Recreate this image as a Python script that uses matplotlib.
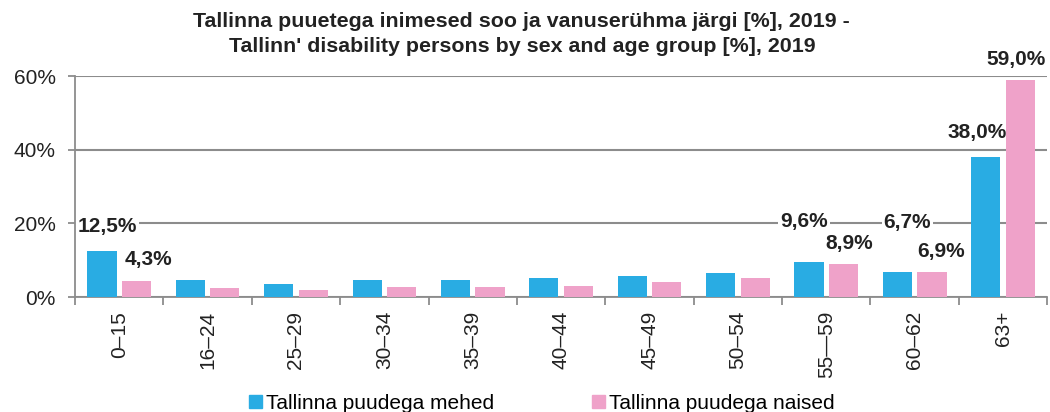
import numpy as np
import matplotlib.pyplot as plt
from matplotlib.patches import Patch

plt.rcParams['font.family'] = ['Liberation Sans', 'DejaVu Sans']

title = ("Tallinna puuetega inimesed soo ja vanuserühma järgi [%], 2019 -\n"
         "Tallinn' disability persons by sex and age group [%], 2019")
groups = ['0–15', '16–24', '25–29', '30–34', '35–39', '40–44', '45–49',
          '50–54', '55—59', '60–62', '63+']
men = [12.5, 4.5, 3.6, 4.5, 4.5, 5.1, 5.6, 6.5, 9.6, 6.7, 38.0]
women = [4.3, 2.4, 2.0, 2.6, 2.7, 2.9, 4.0, 5.3, 8.9, 6.9, 59.0]
men_name = 'Tallinna puudega mehed'
women_name = 'Tallinna puudega naised'

# which bars get a value label, and pixel offset of the label from bar top
men_labels = {0: (5, 25), 8: (-5, 40), 9: (10, 50), 10: (-9, 25)}
women_labels = {0: (12, 22), 8: (6, 21), 9: (9, 20), 10: (-4, 20)}

blue = '#29ace3'
pink = '#efa2c9'
grey = '#8c8c8c'
txt = '#222222'

fig = plt.figure(figsize=(10.5, 4.12), dpi=100)
ax = fig.add_axes([0.0714, 0.279, 0.926, 0.5365])

x = np.arange(len(groups))
w = 0.33
b1 = ax.bar(x - 0.195, men, w, color=blue, zorder=3)
b2 = ax.bar(x + 0.195, women, w, color=pink, zorder=3)

def fmt(v):
    return ('%.1f%%' % v).replace('.', ',')

def label(bars, vals, spots):
    for i, (dx, dy) in spots.items():
        r = bars[i]
        ax.annotate(fmt(vals[i]), (r.get_x() + r.get_width() / 2, r.get_height()),
                    xytext=(dx, dy), textcoords='offset pixels', ha='center', va='center',
                    fontsize=15, fontweight='bold', color=txt, zorder=2.5,
                    bbox=dict(facecolor='white', edgecolor='none', pad=1.5))

label(b1, men, men_labels)
label(b2, women, women_labels)

ax.set_xlim(-0.5, len(groups) - 0.5)
ax.set_ylim(0, 60)
ax.set_yticks([0, 20, 40, 60])
ax.set_yticklabels(['0%', '20%', '40%', '60%'], fontsize=15, color=txt)
ax.set_xticks(x)
ax.set_xticklabels(groups, rotation=90, fontsize=15, color=txt)
ax.set_xticks(np.arange(-0.5, len(groups)), minor=True)
ax.tick_params(axis='x', which='major', length=0, pad=10)
ax.tick_params(axis='x', which='minor', length=6, width=1.3, color=grey)
ax.tick_params(axis='y', length=5, width=1.3, color=grey, pad=9)
ax.yaxis.grid(True, color=grey, lw=1.5, zorder=0)
for s in ['top', 'right']:
    ax.spines[s].set_visible(False)
for s in ['left', 'bottom']:
    ax.spines[s].set_color(grey)
    ax.spines[s].set_linewidth(1.3)

fig.suptitle(title, x=0.497, y=0.97, va='top', fontsize=15.4, fontweight='bold',
             color=txt, linespacing=1.4)

handles = [Patch(color=blue, label=men_name), Patch(color=pink, label=women_name)]
fig.legend(handles=handles, loc='lower center', bbox_to_anchor=(0.516, -0.047), ncol=2,
           frameon=False, fontsize=15, handlelength=0.62, handleheight=0.62,
           handletextpad=0.2, columnspacing=4.7)

fig.savefig('out.png', dpi=100)
